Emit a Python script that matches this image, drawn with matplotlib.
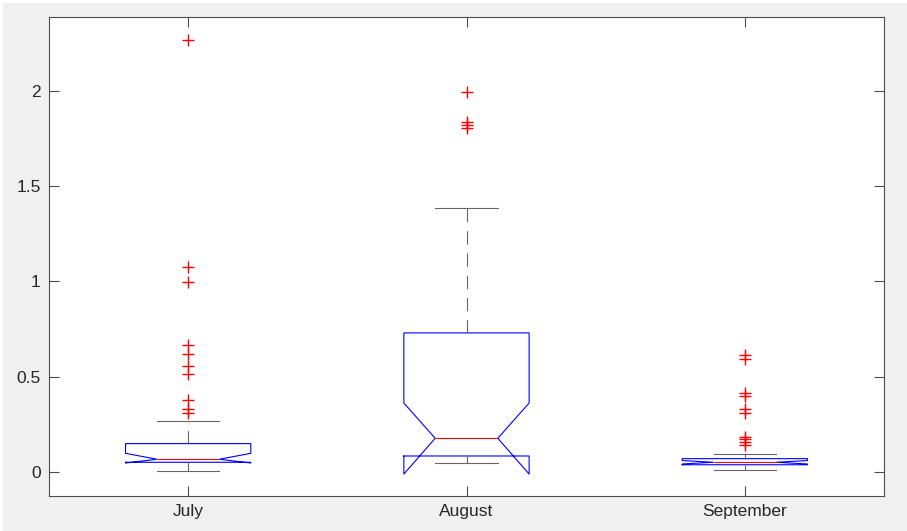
import matplotlib
matplotlib.use("Agg")
import matplotlib.pyplot as plt
from matplotlib.patches import Rectangle

plt.rcParams['font.family'] = ['Liberation Sans', 'DejaVu Sans']

# Summary statistics per month
months = ["July", "August", "September"]
q1 = [0.051, 0.084, 0.038]
median = [0.067, 0.177, 0.051]
q3 = [0.149, 0.730, 0.070]
notch_lo = [0.047, -0.011, 0.042]
notch_hi = [0.098, 0.362, 0.060]
whisker_lo = [0.004, 0.046, 0.009]
whisker_hi = [0.268, 1.383, 0.093]
outliers_july = [2.265, 1.075, 0.996, 0.667, 0.619, 0.556, 0.514, 0.378, 0.329, 0.311]
outliers_august = [1.996, 1.839, 1.820, 1.804]
outliers_september = [0.614, 0.593, 0.416, 0.399, 0.331, 0.308, 0.182, 0.172, 0.156, 0.140]
outliers = [outliers_july, outliers_august, outliers_september]

y_ticks = [0, 0.5, 1, 1.5, 2]
y_ticklabels = ["0", "0.5", "1", "1.5", "2"]

stats = []
for i, name in enumerate(months):
    stats.append(dict(label=name, q1=q1[i], med=median[i], q3=q3[i],
                      cilo=notch_lo[i], cihi=notch_hi[i],
                      whislo=whisker_lo[i], whishi=whisker_hi[i],
                      fliers=outliers[i]))

fig = plt.figure(figsize=(9.07, 5.31), dpi=100)
fig.patch.set_facecolor('white')
fig.patches.append(Rectangle((3 / 907, 0), 1, 1 - 3 / 531, transform=fig.transFigure,
                             facecolor='#f0f0f0', edgecolor='none', zorder=-10))

ax = fig.add_axes([49 / 907, 1 - 496 / 531, (884 - 49) / 907, (496 - 17) / 531])
ax.set_facecolor('white')

line_w = 0.8
ax.bxp(stats, positions=[1, 2, 3], widths=0.45, shownotches=True,
       boxprops=dict(color='blue', linewidth=line_w),
       medianprops=dict(color='red', linewidth=line_w),
       whiskerprops=dict(color='#666666', linewidth=line_w, linestyle=(0, (12, 8))),
       capprops=dict(color='#666666', linewidth=line_w),
       flierprops=dict(marker='+', markeredgecolor='red', markersize=9,
                       markeredgewidth=1.0, linestyle='none'))

ax.set_xlim(0.5, 3.5)
ax.set_ylim(-0.126, 2.388)
ax.set_yticks(y_ticks)
ax.set_yticklabels(y_ticklabels)
ax.set_xticks([1, 2, 3])
ax.set_xticklabels(months)

for s in ax.spines.values():
    s.set_color('#4d4d4d')
    s.set_linewidth(0.8)
ax.tick_params(direction='in', length=7, width=0.8, color='#4d4d4d',
               labelsize=12.5, labelcolor='#262626',
               top=True, right=True, pad=6)
ax.tick_params(axis='x', pad=6)

fig.savefig("out.png", dpi=100)
